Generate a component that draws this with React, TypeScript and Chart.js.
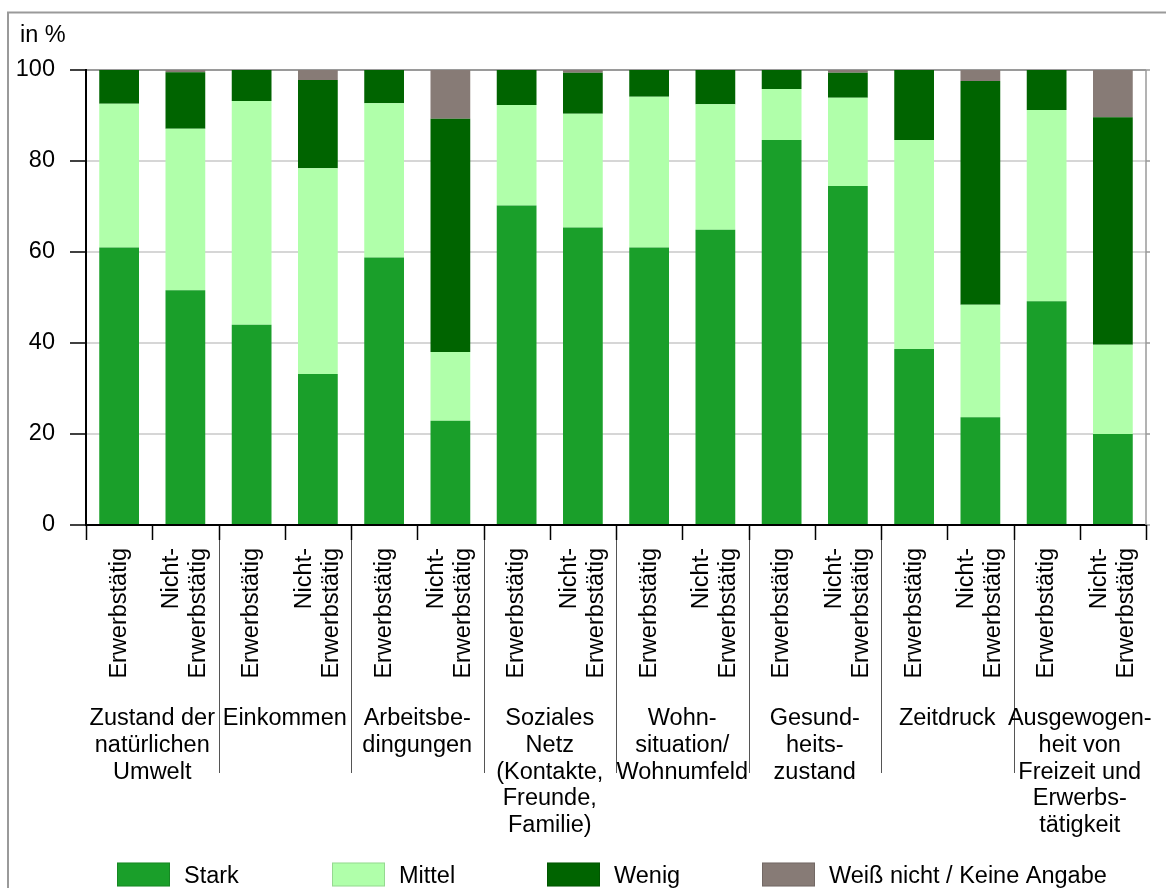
import React, { useEffect, useRef } from 'react';
import { Chart, registerables } from 'chart.js';

Chart.register(...registerables);

const FONT = '"Liberation Sans", Arial, Helvetica, sans-serif';

// Sub-categories (one per bar), each a list of lines
const barLabels: string[][] = [
  ['Erwerbstätig'], ['Nicht-', 'Erwerbstätig'],
  ['Erwerbstätig'], ['Nicht-', 'Erwerbstätig'],
  ['Erwerbstätig'], ['Nicht-', 'Erwerbstätig'],
  ['Erwerbstätig'], ['Nicht-', 'Erwerbstätig'],
  ['Erwerbstätig'], ['Nicht-', 'Erwerbstätig'],
  ['Erwerbstätig'], ['Nicht-', 'Erwerbstätig'],
  ['Erwerbstätig'], ['Nicht-', 'Erwerbstätig'],
  ['Erwerbstätig'], ['Nicht-', 'Erwerbstätig'],
];

// Group labels (each covers two bars)
const groupLabels: string[][] = [
  ['Zustand der', 'natürlichen', 'Umwelt'],
  ['Einkommen'],
  ['Arbeitsbe-', 'dingungen'],
  ['Soziales', 'Netz', '(Kontakte,', 'Freunde,', 'Familie)'],
  ['Wohn-', 'situation/', 'Wohnumfeld'],
  ['Gesund-', 'heits-', 'zustand'],
  ['Zeitdruck'],
  ['Ausgewogen-', 'heit von', 'Freizeit und', 'Erwerbs-', 'tätigkeit'],
];

const stark = [61.0, 51.6, 44.0, 33.2, 58.8, 22.9, 70.2, 65.4, 61.0, 64.9, 84.6, 74.5, 38.7, 23.7, 49.2, 20.0];
const mittel = [31.6, 35.5, 49.2, 45.2, 33.9, 15.1, 22.1, 25.0, 33.1, 27.6, 11.2, 19.4, 45.9, 24.7, 42.0, 19.6];
const wenig = [7.4, 12.4, 6.8, 19.4, 7.3, 51.3, 7.7, 9.0, 5.9, 7.5, 4.2, 5.5, 15.4, 49.2, 8.8, 50.0];
const weissNicht = [0, 0.5, 0, 2.2, 0, 10.7, 0, 0.6, 0, 0, 0, 0.6, 0, 2.4, 0, 10.4];

const yTicks = [0, 20, 40, 60, 80, 100];

const seriesNames = ['Stark', 'Mittel', 'Wenig', 'Weiß nicht / Keine Angabe'];
const seriesColors = ['#1a9f2a', '#b0ffaa', '#006400', '#877b76'];

const decorPlugin = {
  id: 'decor',
  afterDraw(chart: any) {
    const ctx = chart.ctx as CanvasRenderingContext2D;
    const area = chart.chartArea;
    const xs = chart.scales.x;
    const ys = chart.scales.y;
    const n = barLabels.length;
    const cw = (area.right - area.left) / n;

    ctx.save();
    // outer frame
    ctx.strokeStyle = '#9a9a9a';
    ctx.lineWidth = 2;
    ctx.beginPath();
    ctx.moveTo(8, 900);
    ctx.lineTo(8, 12.5);
    ctx.lineTo(1200, 12.5);
    ctx.stroke();

    // "in %"
    ctx.fillStyle = '#000';
    ctx.font = `23.5px ${FONT}`;
    ctx.textAlign = 'left';
    ctx.textBaseline = 'alphabetic';
    ctx.fillText('in %', 20, 42);

    // right plot border with small ticks
    ctx.strokeStyle = '#9a9a9a';
    ctx.lineWidth = 1.5;
    ctx.beginPath();
    ctx.moveTo(area.right, area.top);
    ctx.lineTo(area.right, area.bottom);
    yTicks.forEach((v) => {
      const y = ys.getPixelForValue(v);
      ctx.moveTo(area.right, y);
      ctx.lineTo(area.right + 4, y);
    });
    ctx.stroke();

    // x ticks
    ctx.strokeStyle = '#000';
    ctx.lineWidth = 1.5;
    ctx.beginPath();
    for (let i = 0; i <= n; i++) {
      const x = Math.round(area.left + i * cw) + 0.5;
      ctx.moveTo(x, area.bottom);
      ctx.lineTo(x, area.bottom + 15);
    }
    ctx.stroke();
    // group separators
    ctx.strokeStyle = '#555';
    ctx.lineWidth = 1;
    ctx.beginPath();
    for (let i = 2; i < n; i += 2) {
      const x = Math.round(area.left + i * cw) + 0.5;
      ctx.moveTo(x, area.bottom + 15);
      ctx.lineTo(x, 773);
    }
    ctx.stroke();

    // rotated bar labels
    ctx.fillStyle = '#000';
    ctx.font = `23.5px ${FONT}`;
    barLabels.forEach((lines, i) => {
      const cx = xs.getPixelForValue(i);
      const m = lines.length;
      lines.forEach((line, k) => {
        const lx = cx + (k - (m - 1) / 2) * 27;
        ctx.save();
        ctx.translate(lx, 548);
        ctx.rotate(-Math.PI / 2);
        ctx.textAlign = 'right';
        ctx.textBaseline = 'middle';
        ctx.fillText(line, 0, 0);
        ctx.restore();
      });
    });

    // group labels
    ctx.textAlign = 'center';
    ctx.textBaseline = 'alphabetic';
    groupLabels.forEach((lines, g) => {
      const cx = (xs.getPixelForValue(2 * g) + xs.getPixelForValue(2 * g + 1)) / 2;
      lines.forEach((line, k) => {
        ctx.fillText(line, cx, 725 + k * 26.8);
      });
    });

    // legend
    chart.data.datasets.forEach((ds: any, j: number) => {
      const x0 = 117 + j * 215;
      ctx.fillStyle = ds.backgroundColor;
      ctx.fillRect(x0, 862.5, 53, 24);
      ctx.strokeStyle = 'rgba(0,0,0,0.15)';
      ctx.lineWidth = 1;
      ctx.strokeRect(x0 + 0.5, 863, 52, 23);
      ctx.fillStyle = '#000';
      ctx.textAlign = 'left';
      ctx.fillText(ds.label, x0 + 67, 883);
    });
    ctx.restore();
  },
};

export default function App() {
  const ref = useRef<HTMLCanvasElement>(null);
  useEffect(() => {
    if (!ref.current) return;
    const series = [stark, mittel, wenig, weissNicht];
    const chart = new Chart(ref.current, {
      type: 'bar',
      data: {
        labels: barLabels.map((l) => l.join(' ')),
        datasets: series.map((d, i) => ({
          label: seriesNames[i],
          data: d,
          backgroundColor: seriesColors[i],
          borderWidth: 0,
          barPercentage: 0.6,
          categoryPercentage: 1,
        })),
      },
      options: {
        responsive: false,
        animation: false,
        devicePixelRatio: 1,
        layout: { padding: { top: 70, right: 20, left: 0, bottom: 0 } },
        plugins: {
          legend: { display: false },
          tooltip: { enabled: false },
          title: { display: false },
        },
        scales: {
          x: {
            stacked: true,
            grid: { display: false },
            ticks: { display: false },
            border: { display: true, color: '#000', width: 2 },
            afterFit: (s: any) => { s.height = 363; },
          },
          y: {
            stacked: true,
            min: 0,
            max: 100,
            afterBuildTicks: (s: any) => { s.ticks = yTicks.map((v) => ({ value: v })); },
            ticks: {
              color: '#000',
              font: { size: 23.5, family: FONT },
              padding: 15,
            },
            grid: {
              color: (c: any) => (c.tick && c.tick.value === 100 ? '#9a9a9a' : c.tick && c.tick.value === 0 ? 'rgba(0,0,0,0)' : '#d6d6d6'),
              lineWidth: 2,
              tickColor: '#000',
              tickLength: 16,
              tickWidth: 1.5,
            },
            border: { display: true, color: '#000', width: 2 },
            afterFit: (s: any) => { s.width = 86; },
          },
        },
      },
      plugins: [decorPlugin],
    });
    return () => chart.destroy();
  }, []);
  return (
    <div style={{ position: 'absolute', left: 0, top: 0, width: 1166, height: 888, background: '#fff', overflow: 'hidden' }}>
      <canvas ref={ref} width={1166} height={888} style={{ display: 'block', width: 1166, height: 888 }} />
    </div>
  );
}
